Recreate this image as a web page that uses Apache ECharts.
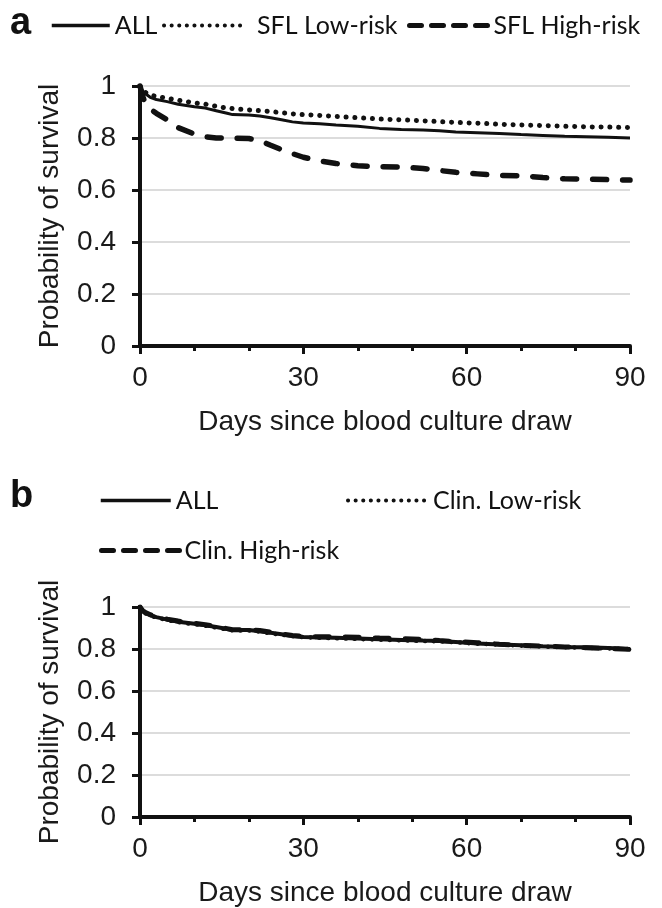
<!DOCTYPE html>
<html>
<head>
<meta charset="utf-8">
<script src="https://cdn.jsdelivr.net/npm/echarts@6/dist/echarts.min.js"></script>
<style>
html,body{margin:0;padding:0;background:#fff;}
#chart{width:662px;height:908px;}
</style>
</head>
<body>
<div id="chart"></div>
<script>
// ---- data ----
const days = [0, 0.5, 1, 2, 3, 5, 7, 10, 12, 14, 16, 17, 20, 22, 24, 26, 28, 30, 33, 36, 40, 44, 48, 52, 55, 58, 62, 66, 70, 74, 78, 82, 86, 90];

// Panel a
const aAll  = [1, 0.98, 0.97, 0.955, 0.948, 0.94, 0.93, 0.92, 0.915, 0.905, 0.895, 0.89, 0.888, 0.885, 0.878, 0.87, 0.862, 0.858, 0.855, 0.85, 0.845, 0.837, 0.833, 0.831, 0.828, 0.823, 0.82, 0.817, 0.813, 0.81, 0.807, 0.805, 0.803, 0.80];
const aLow  = [1, 0.985, 0.975, 0.965, 0.96, 0.953, 0.945, 0.935, 0.93, 0.922, 0.915, 0.913, 0.908, 0.905, 0.902, 0.897, 0.893, 0.89, 0.887, 0.883, 0.878, 0.873, 0.87, 0.866, 0.863, 0.86, 0.857, 0.853, 0.85, 0.848, 0.845, 0.843, 0.842, 0.84];
const aHigh = [1, 0.96, 0.93, 0.91, 0.895, 0.87, 0.84, 0.815, 0.805, 0.80, 0.80, 0.80, 0.798, 0.79, 0.772, 0.755, 0.74, 0.726, 0.712, 0.702, 0.693, 0.69, 0.688, 0.683, 0.675, 0.668, 0.662, 0.656, 0.655, 0.648, 0.643, 0.642, 0.64, 0.638];

// Panel b
const bAll  = [1, 0.98, 0.972, 0.96, 0.952, 0.94, 0.93, 0.92, 0.913, 0.905, 0.895, 0.89, 0.89, 0.885, 0.877, 0.87, 0.862, 0.857, 0.855, 0.853, 0.85, 0.846, 0.843, 0.84, 0.838, 0.833, 0.826, 0.822, 0.818, 0.813, 0.81, 0.808, 0.805, 0.80];
const bLow  = [1, 0.978, 0.97, 0.958, 0.95, 0.938, 0.928, 0.918, 0.911, 0.902, 0.893, 0.889, 0.888, 0.883, 0.875, 0.868, 0.861, 0.856, 0.853, 0.851, 0.848, 0.844, 0.841, 0.838, 0.836, 0.832, 0.825, 0.821, 0.816, 0.812, 0.809, 0.806, 0.803, 0.799];
const bHigh = [1, 0.982, 0.974, 0.962, 0.955, 0.942, 0.933, 0.922, 0.916, 0.906, 0.897, 0.892, 0.892, 0.888, 0.88, 0.872, 0.864, 0.86, 0.858, 0.858, 0.856, 0.852, 0.849, 0.846, 0.84, 0.835, 0.83, 0.823, 0.818, 0.813, 0.81, 0.806, 0.802, 0.798];

const xTicks = [0, 30, 60, 90];
const yTicks = [0, 0.2, 0.4, 0.6, 0.8, 1];

const namesA = ['ALL', 'SFL Low-risk', 'SFL High-risk'];
const namesB = ['ALL ', 'Clin. Low-risk', 'Clin. High-risk'];
const xTitle = 'Days since blood culture draw';
const yTitle = 'Probability of survival';

// ---- build ----
const pair = (vals) => days.map((d, i) => [d, vals[i]]);
const AX = '"Liberation Sans", Arial, sans-serif';
const LG = 'Lato, "Open Sans", sans-serif';
const INK = '#111';

function xAxis(gridIndex) {
  return {
    type: 'value', gridIndex, min: xTicks[0], max: xTicks[xTicks.length - 1], interval: xTicks[1] - xTicks[0],
    name: xTitle, nameLocation: 'middle', nameGap: 62,
    nameTextStyle: { fontFamily: AX, fontSize: 28, color: '#1a1a1a' },
    axisLine: { lineStyle: { color: INK, width: 4 } },
    axisTick: { length: 8, lineStyle: { color: INK, width: 3 } },
    minorTick: { show: true, splitNumber: 3, length: 5, lineStyle: { color: INK, width: 3 } },
    axisLabel: { fontFamily: AX, fontSize: 28, color: '#1a1a1a', margin: 18 },
    splitLine: { show: false }
  };
}
function yAxis(gridIndex) {
  return {
    type: 'value', gridIndex, min: yTicks[0], max: yTicks[yTicks.length - 1], interval: yTicks[1] - yTicks[0],
    name: yTitle, nameLocation: 'middle', nameGap: 76, nameRotate: 90,
    nameTextStyle: { fontFamily: AX, fontSize: 28, color: '#1a1a1a' },
    axisLine: { show: true, lineStyle: { color: INK, width: 4 } },
    axisTick: { show: true, length: 8, lineStyle: { color: INK, width: 3 } },
    axisLabel: { fontFamily: AX, fontSize: 28, color: '#1a1a1a', margin: 24 },
    splitLine: { show: true, lineStyle: { color: '#dcdcdc', width: 2 } }
  };
}

const solid = (w) => ({ color: INK, width: w, type: 'solid' });
const dotted = (w) => ({ color: INK, width: w, type: [0.1, 8.7], cap: 'round' });
const dashed = (w) => ({ color: INK, width: w, type: [14, 16], cap: 'round' });
const legDot = { color: INK, width: 4, type: [0.1, 7.5], cap: 'round' };
const legDash = { color: INK, width: 5, type: [12, 10], cap: 'round' };

function line(name, vals, ls, xi, z) {
  return { type: 'line', name, data: pair(vals), xAxisIndex: xi, yAxisIndex: xi,
    symbol: 'none', lineStyle: ls, itemStyle: { color: INK }, z, silent: true, animation: false };
}

function legend(name, left, top, w, ls, pad) {
  return {
    data: [name], left, top, padding: 0, itemWidth: w, itemHeight: 14, selectedMode: false,
    itemStyle: { opacity: 0 },
    lineStyle: ls,
    textStyle: { fontFamily: LG, fontSize: 25, color: '#111', padding: [0, 0, 0, pad || 0] }
  };
}

const option = {
  animation: false,
  backgroundColor: '#fff',
  title: [
    { text: 'a', left: 5, top: 0, textStyle: { fontFamily: AX, fontSize: 38, fontWeight: 'bold', color: '#111' } },
    { text: 'b', left: 5, top: 473, textStyle: { fontFamily: AX, fontSize: 38, fontWeight: 'bold', color: '#111' } }
  ],
  legend: [
    legend(namesA[0], 50, 13, 58, solid(3.5), 0),
    legend(namesA[1], 162, 13, 82, legDot, 6),
    legend(namesA[2], 407, 13, 79, legDash, 0),
    legend(namesB[0], 99, 488, 70, solid(3.5), 0),
    legend(namesB[1], 346, 488, 80, legDot, 0),
    legend(namesB[2], 99, 538, 78, legDash, 0)
  ],
  grid: [
    { left: 140, right: 32, top: 86, height: 260 },
    { left: 140, right: 32, top: 607, height: 212 }
  ],
  xAxis: [xAxis(0), xAxis(1)],
  yAxis: [yAxis(0), yAxis(1)],
  series: [
    line(namesA[0], aAll, solid(3), 0, 3),
    line(namesA[1], aLow, dotted(5), 0, 2),
    line(namesA[2], aHigh, dashed(5.5), 0, 2),
    line(namesB[0], bAll, solid(4), 1, 3),
    line(namesB[1], bLow, dotted(4.5), 1, 2),
    line(namesB[2], bHigh, dashed(5), 1, 2)
  ]
};

const chart = echarts.init(document.getElementById('chart'), null, { renderer: 'canvas' });
chart.setOption(option);
</script>
</body>
</html>
